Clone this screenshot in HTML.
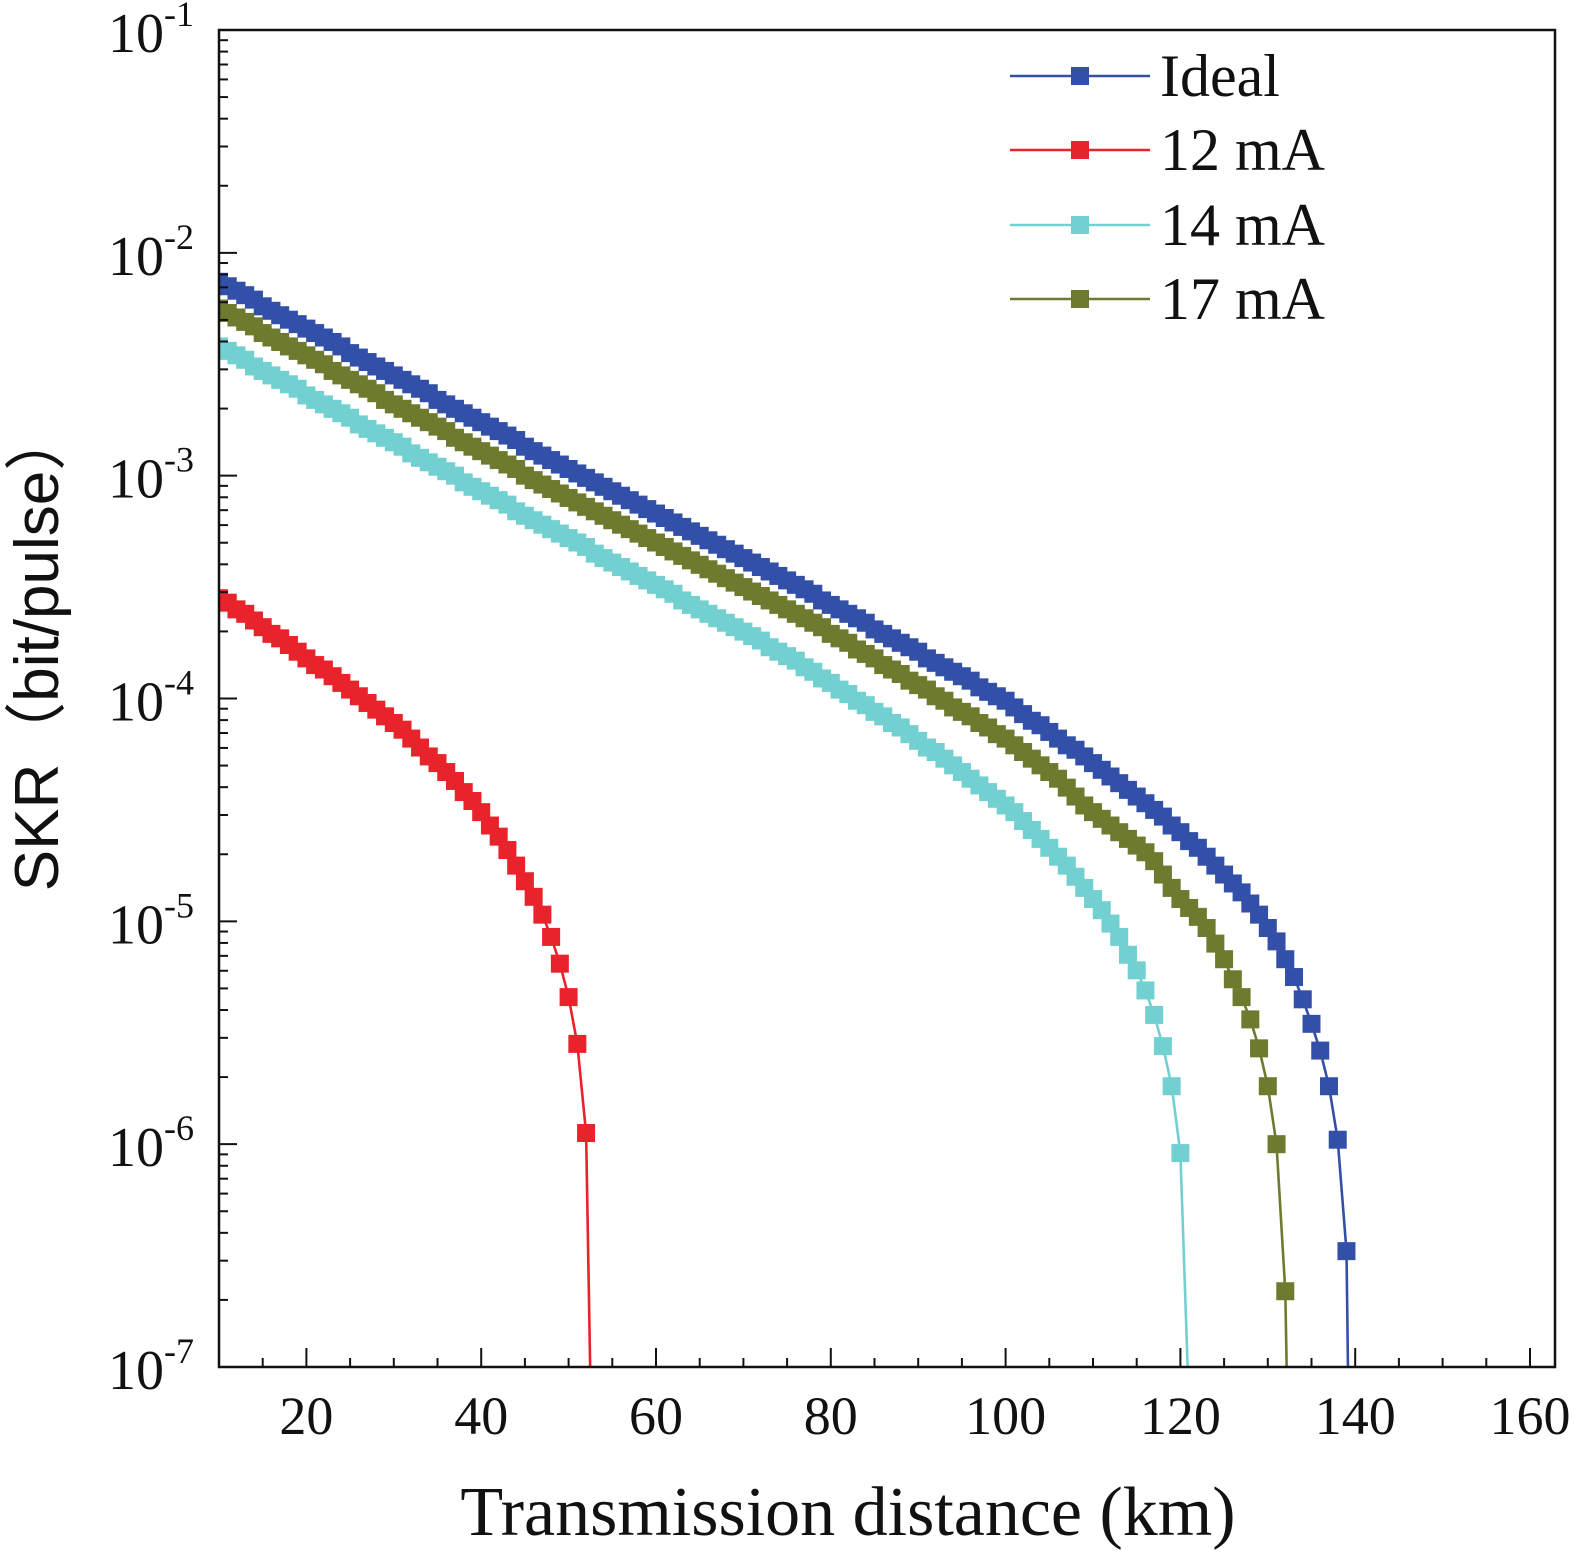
<!DOCTYPE html>
<html><head><meta charset="utf-8"><style>
html,body{margin:0;padding:0;background:#fff;}
svg{display:block;}
text{font-family:"Liberation Serif",serif;fill:#111;}
</style></head><body>
<svg id="chart" width="1575" height="1558" viewBox="0 0 1575 1558" xmlns="http://www.w3.org/2000/svg">
<g id="plot"></g>
<g id="axes"></g>
<text x="848" y="1535" font-size="70" text-anchor="middle">Transmission distance (km)</text>
<text transform="translate(58,650) rotate(-90)" font-size="62" text-anchor="middle" style="font-family:'Liberation Sans','Noto Sans CJK SC',sans-serif">SKR（bit/pulse）</text>
<g id="legend"></g>
</svg>
<script>
const seriesNames = ["Ideal","12 mA","14 mA","17 mA"];
const seriesColors = ["#3350a8","#e8232b","#72d0d0","#6e7a2e"];
const distances = [10,11,12,13,14,15,16,17,18,19,20,21,22,23,24,25,26,27,28,29,30,31,32,33,34,35,36,37,38,39,40,41,42,43,44,45,46,47,48,49,50,51,52,53,54,55,56,57,58,59,60,61,62,63,64,65,66,67,68,69,70,71,72,73,74,75,76,77,78,79,80,81,82,83,84,85,86,87,88,89,90,91,92,93,94,95,96,97,98,99,100,101,102,103,104,105,106,107,108,109,110,111,112,113,114,115,116,117,118,119,120,121,122,123,124,125,126,127,128,129,130,131,132,133,134,135,136,137,138,139];
const idealLog = [-2.13,-2.15,-2.17,-2.19,-2.21,-2.24,-2.26,-2.28,-2.30,-2.32,-2.34,-2.36,-2.38,-2.40,-2.42,-2.45,-2.47,-2.49,-2.51,-2.53,-2.55,-2.57,-2.59,-2.61,-2.63,-2.66,-2.68,-2.70,-2.72,-2.74,-2.76,-2.78,-2.80,-2.82,-2.84,-2.87,-2.89,-2.91,-2.93,-2.95,-2.97,-2.99,-3.01,-3.03,-3.05,-3.07,-3.09,-3.11,-3.13,-3.15,-3.17,-3.19,-3.21,-3.23,-3.25,-3.27,-3.29,-3.31,-3.33,-3.35,-3.37,-3.39,-3.41,-3.43,-3.45,-3.47,-3.49,-3.51,-3.53,-3.56,-3.58,-3.60,-3.62,-3.64,-3.66,-3.69,-3.71,-3.73,-3.75,-3.77,-3.79,-3.82,-3.84,-3.86,-3.88,-3.90,-3.92,-3.95,-3.97,-3.99,-4.01,-4.04,-4.07,-4.10,-4.12,-4.15,-4.18,-4.21,-4.23,-4.26,-4.29,-4.32,-4.35,-4.38,-4.41,-4.44,-4.47,-4.50,-4.53,-4.57,-4.60,-4.64,-4.67,-4.71,-4.75,-4.79,-4.83,-4.87,-4.92,-4.97,-5.03,-5.09,-5.17,-5.25,-5.35,-5.46,-5.58,-5.74,-5.98,-6.48];
const ma12Log = [-3.55,-3.57,-3.60,-3.62,-3.65,-3.68,-3.71,-3.73,-3.76,-3.79,-3.82,-3.85,-3.87,-3.90,-3.93,-3.96,-3.99,-4.02,-4.05,-4.08,-4.11,-4.14,-4.18,-4.22,-4.26,-4.29,-4.33,-4.37,-4.42,-4.46,-4.51,-4.57,-4.62,-4.68,-4.75,-4.82,-4.89,-4.97,-5.07,-5.19,-5.34,-5.55,-5.95];
const ma14Log = [-2.42,-2.44,-2.46,-2.48,-2.51,-2.53,-2.55,-2.57,-2.59,-2.61,-2.64,-2.66,-2.68,-2.70,-2.72,-2.74,-2.77,-2.79,-2.81,-2.83,-2.85,-2.87,-2.90,-2.92,-2.94,-2.96,-2.98,-3.00,-3.03,-3.05,-3.07,-3.09,-3.11,-3.13,-3.16,-3.18,-3.20,-3.22,-3.24,-3.26,-3.28,-3.30,-3.32,-3.35,-3.37,-3.39,-3.41,-3.43,-3.45,-3.47,-3.49,-3.51,-3.53,-3.56,-3.58,-3.60,-3.62,-3.64,-3.66,-3.68,-3.70,-3.72,-3.74,-3.77,-3.79,-3.81,-3.83,-3.86,-3.88,-3.91,-3.93,-3.96,-3.98,-4.01,-4.03,-4.06,-4.08,-4.11,-4.13,-4.16,-4.19,-4.22,-4.24,-4.27,-4.30,-4.33,-4.36,-4.39,-4.42,-4.45,-4.48,-4.51,-4.55,-4.59,-4.63,-4.67,-4.71,-4.75,-4.80,-4.85,-4.90,-4.95,-5.01,-5.07,-5.15,-5.22,-5.31,-5.42,-5.56,-5.74,-6.04];
const ma17Log = [-2.25,-2.27,-2.29,-2.31,-2.33,-2.36,-2.38,-2.40,-2.42,-2.44,-2.46,-2.48,-2.50,-2.53,-2.55,-2.57,-2.59,-2.61,-2.63,-2.66,-2.68,-2.70,-2.72,-2.74,-2.76,-2.78,-2.80,-2.83,-2.85,-2.87,-2.89,-2.91,-2.93,-2.95,-2.97,-3.00,-3.02,-3.04,-3.06,-3.08,-3.10,-3.12,-3.14,-3.16,-3.18,-3.20,-3.22,-3.24,-3.26,-3.28,-3.30,-3.32,-3.34,-3.36,-3.38,-3.40,-3.42,-3.44,-3.46,-3.48,-3.50,-3.52,-3.54,-3.56,-3.58,-3.60,-3.62,-3.64,-3.66,-3.68,-3.71,-3.73,-3.75,-3.78,-3.80,-3.82,-3.85,-3.87,-3.89,-3.92,-3.94,-3.96,-3.99,-4.01,-4.04,-4.06,-4.08,-4.11,-4.13,-4.16,-4.18,-4.21,-4.24,-4.27,-4.30,-4.33,-4.36,-4.40,-4.44,-4.48,-4.51,-4.54,-4.57,-4.60,-4.63,-4.66,-4.69,-4.73,-4.79,-4.85,-4.90,-4.94,-4.98,-5.03,-5.10,-5.17,-5.26,-5.34,-5.44,-5.57,-5.74,-6.00,-6.66];
const cutoffX = [139.2,52.5,120.9,132.2];
const xTicks = [20,40,60,80,100,120,140,160];
const yTickExp = [-1,-2,-3,-4,-5,-6,-7];

const NS="http://www.w3.org/2000/svg";
const L=219,R=1555,T=30,B=1367;
const xMin=10,xMax=10+(R-L)/8.74;
function sx(v){return L+(v-xMin)/(xMax-xMin)*(R-L);}
function sy(lg){return T+(-1-lg)/6*(B-T);}
function mk(tag,attrs,parent){const e=document.createElementNS(NS,tag);for(const k in attrs)e.setAttribute(k,attrs[k]);parent.appendChild(e);return e;}

const plot=document.getElementById('plot');
const axes=document.getElementById('axes');
const legend=document.getElementById('legend');
const clip=mk('clipPath',{id:'cp'},document.getElementById('chart'));
mk('rect',{x:L,y:T,width:R-L,height:B-T},clip);
plot.setAttribute('clip-path','url(#cp)');

const allY=[idealLog,ma12Log,ma14Log,ma17Log];
const keys=['ideal','12ma','14ma','17ma'];
for(let s=0;s<4;s++){
  const ys=allY[s],c=seriesColors[s];
  const xs=distances.slice(0,ys.length);
  let pts=xs.map((x,i)=>sx(x).toFixed(1)+','+sy(ys[i]).toFixed(1));
  pts.push(sx(cutoffX[s]).toFixed(1)+','+(B+20));
  const pl=mk('polyline',{points:pts.join(' '),fill:'none',stroke:c,'stroke-width':2.6},plot);
  
  
  for(let i=0;i<xs.length;i++){
    const r=mk('rect',{x:sx(xs[i])-9,y:sy(ys[i])-9,width:18,height:18,fill:c},plot);
    
    
  }
}
const fr=mk('rect',{x:L,y:T,width:R-L,height:B-T,fill:'none',stroke:'#111','stroke-width':2.5},axes);


for(let v=15;v<=160;v+=5){
  const major=xTicks.includes(v);
  const t=mk('line',{x1:sx(v),x2:sx(v),y1:B,y2:B-(major?19:9),stroke:'#111','stroke-width':2},axes);
  
  
}
xTicks.forEach(v=>{
  const t=mk('text',{x:sx(v),y:1434,'font-size':54,'text-anchor':'middle'},axes);
  t.textContent=v;
  
  
});
yTickExp.forEach(e=>{
  const y=sy(e);
  const t=mk('line',{x1:L,x2:L+18,y1:y,y2:y,stroke:'#111','stroke-width':2},axes);
  
  
  if(e>-7){for(let m=2;m<=9;m++){const yy=sy(e-1+Math.log10(m));
    const mt=mk('line',{x1:L,x2:L+9,y1:yy,y2:yy,stroke:'#111','stroke-width':2},axes);
    
    }}
  const tx=mk('text',{x:108,y:y+22,'font-size':56},axes);
  
  
  const a=mk('tspan',{},tx);a.textContent='10';
  const b=mk('tspan',{dy:-26,'font-size':36},tx);b.textContent=String(e);
});
const rowsY=[76,150,225,299];
[0,1,2,3].forEach((s,i)=>{
  const g=mk('g',{},legend);
  
  
  mk('line',{x1:1010,x2:1150,y1:rowsY[i],y2:rowsY[i],stroke:seriesColors[s],'stroke-width':2.6},g);
  mk('rect',{x:1071,y:rowsY[i]-9,width:18,height:18,fill:seriesColors[s]},g);
  const t=mk('text',{x:1160,y:rowsY[i]+20,'font-size':60},g);
  t.textContent=seriesNames[s];
});
</script>
</body></html>
